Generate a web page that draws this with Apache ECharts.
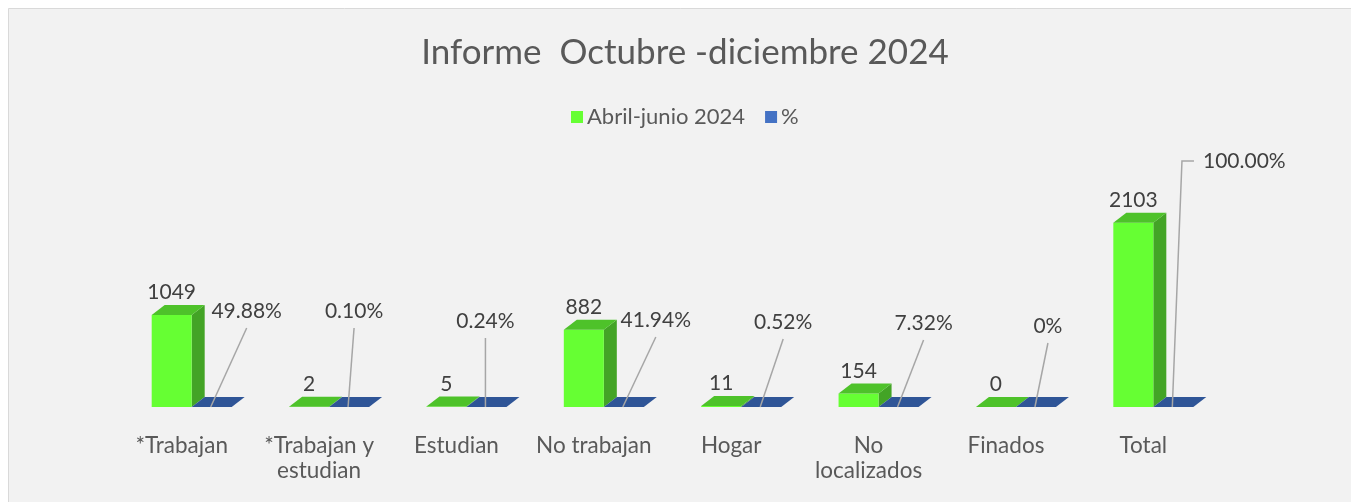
<!DOCTYPE html>
<html>
<head>
<meta charset="utf-8">
<script src="https://cdn.jsdelivr.net/npm/echarts@6/dist/echarts.min.js"></script>
<style>
  html, body { margin: 0; padding: 0; background: #ffffff; }
  #chart { width: 1351px; height: 502px; }
</style>
</head>
<body>
<div id="chart"></div>
<script>
// Categories shown along the bottom
const categories = ['*Trabajan', '*Trabajan y\nestudian', 'Estudian', 'No trabajan', 'Hogar', 'No\nlocalizados', 'Finados', 'Total'];
// People per category
const personas = [1049, 2, 5, 882, 11, 154, 0, 2103];
// Share of the total, in percent
const porcentaje = [49.88, 0.10, 0.24, 41.94, 0.52, 7.32, 0, 100];
// Hand-placed percent labels: [dx, dy] from the leader-line anchor
const pctLabelShift = [[36, -96], [6, -96], [0, -86], [33, -87], [23, -85], [26, -84], [13, -81], [72, -246]];

const FONT = 'Lato, "Open Sans", sans-serif';
const TEXT = '#595959';
const LABEL_SIZE = 21;
const BAR_W = 40;       // front face width
const DX = 13, DY = 10; // depth of the 3D bars

const measureCtx = document.createElement('canvas').getContext('2d');
function textWidth(s) { measureCtx.font = LABEL_SIZE + 'px ' + FONT; return measureCtx.measureText(s).width; }

function pctText(v) { return v === 0 ? '0%' : v.toFixed(2) + '%'; }

// Draws one 3D box: side, front and top faces
function box(x0, yt, yb, front, side, top) {
  return [
    { type: 'polygon', shape: { points: [[x0 + BAR_W, yb], [x0 + BAR_W + DX, yb - DY], [x0 + BAR_W + DX, yt - DY], [x0 + BAR_W, yt]] }, style: { fill: side } },
    { type: 'rect', shape: { x: x0, y: yt, width: BAR_W, height: Math.max(yb - yt, 0) }, style: { fill: front } },
    { type: 'polygon', shape: { points: [[x0, yt], [x0 + DX, yt - DY], [x0 + BAR_W + DX, yt - DY], [x0 + BAR_W, yt]] }, style: { fill: top } }
  ];
}

function renderPersonas(params, api) {
  const i = api.value(0), v = api.value(1);
  const base = api.coord([i, 0]);
  const tip = api.coord([i, v]);
  const x0 = base[0] - 30;
  const els = box(x0, tip[1], base[1], '#66FF33', '#43A426', '#4EC22A');
  els.push({
    type: 'text',
    style: { x: x0 + BAR_W / 2, y: tip[1] - DY - 2, text: String(v), fill: '#404040', font: LABEL_SIZE + 'px ' + FONT, textAlign: 'center', textVerticalAlign: 'bottom' }
  });
  return { type: 'group', children: els };
}

function renderPorcentaje(params, api) {
  const i = api.value(0), v = api.value(1);
  const base = api.coord([i, 0]);
  const tip = api.coord([i, v / 100]);
  const x0 = base[0] + 10;
  const els = box(x0, tip[1], base[1], '#4472C4', '#35599A', '#2F5597');
  const label = pctText(porcentaje[i]);
  const ax = x0 + 19, ay = base[1];
  const sh = pctLabelShift[i];
  const lx = ax + sh[0], ly = ay + sh[1];
  const w = textWidth(label);
  let pts;
  if (ax < lx - w / 2 - 8) {
    // anchor sits well left of the label: elbow into its left side
    const ex = lx - w / 2 - 9;
    pts = [[ax, ay], [ex - 12, ly], [ex, ly]];
  } else {
    pts = [[ax, ay], [lx, ly + 17]];
  }
  els.push({ type: 'polyline', shape: { points: pts }, style: { stroke: '#A6A6A6', lineWidth: 1.5, fill: null } });
  els.push({
    type: 'text',
    style: { x: lx, y: ly, text: label, fill: '#404040', font: LABEL_SIZE + 'px ' + FONT, textAlign: 'center', textVerticalAlign: 'middle' }
  });
  return { type: 'group', children: els };
}

const chart = echarts.init(document.getElementById('chart'), null, { renderer: 'canvas' });
chart.setOption({
  animation: false,
  backgroundColor: '#ffffff',
  graphic: [{
    type: 'rect', z: -10, silent: true,
    shape: { x: 8.5, y: 8.5, width: 1400, height: 600 },
    style: { fill: '#F2F2F2', stroke: '#D9D9D9', lineWidth: 1 }
  }],
  title: {
    text: 'Informe  Octubre -diciembre 2024',
    left: 680, top: 30, textAlign: 'center',
    textStyle: { fontFamily: FONT, fontSize: 35, fontWeight: 'normal', color: TEXT }
  },
  legend: {
    left: 566, top: 101,
    itemWidth: 12, itemHeight: 12, itemGap: 20,
    icon: 'rect',
    textStyle: { fontFamily: FONT, fontSize: 22, color: TEXT, padding: [0, 0, 0, -1] },
    data: ['Abril-junio 2024', '%']
  },
  grid: { left: 113, right: 139, top: 188, bottom: 95 },
  xAxis: {
    type: 'category',
    data: categories,
    axisLine: { show: false },
    axisTick: { show: false },
    axisLabel: { margin: 26, fontFamily: FONT, fontSize: 22.5, lineHeight: 25, color: TEXT, interval: 0 }
  },
  yAxis: {
    type: 'value', min: 0, max: 2500,
    show: false,
    splitLine: { show: false }
  },
  series: [
    {
      name: 'Abril-junio 2024', type: 'custom',
      itemStyle: { color: '#66FF33' },
      renderItem: renderPersonas,
      encode: { x: 0, y: 1 },
      data: personas.map((v, i) => [i, v])
    },
    {
      name: '%', type: 'custom',
      itemStyle: { color: '#4472C4' },
      renderItem: renderPorcentaje,
      encode: { x: 0, y: 1 },
      data: porcentaje.map((v, i) => [i, v])
    }
  ]
});
</script>
</body>
</html>
